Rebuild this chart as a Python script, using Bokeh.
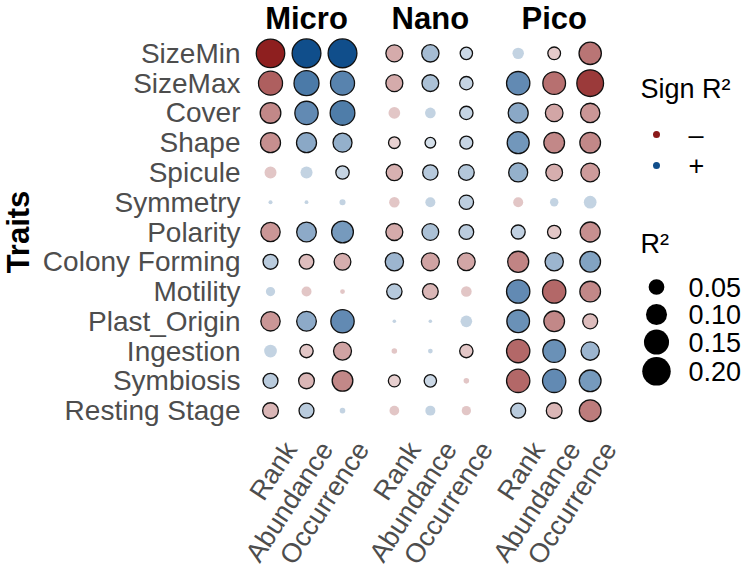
import math
from bokeh.plotting import figure
from bokeh.models import ColumnDataSource, Range1d
from bokeh.embed import file_html
from bokeh.resources import INLINE
from bokeh.core.properties import value

# ---------------- data ----------------
traits = ["SizeMin", "SizeMax", "Cover", "Shape", "Spicule", "Symmetry", "Polarity",
          "Colony Forming", "Motility", "Plast_Origin", "Ingestion", "Symbiosis", "Resting Stage"]
groups = ["Micro", "Nano", "Pico"]
metrics = ["Rank", "Abundance", "Occurrence"]

# signed R2 (negative = red "–", positive = blue "+"); *_sig: 1 = significant (outlined)
micro_rank = [-0.200, -0.136, -0.096, -0.089, -0.025, 0.0003, -0.082, 0.044, 0.012, -0.082, 0.029, 0.044, -0.050]
micro_rank_sig = [1, 1, 1, 1, 0, 0, 1, 1, 0, 1, 0, 1, 1]
micro_abund = [0.205, 0.149, 0.127, 0.089, 0.025, 0.0002, 0.086, -0.042, -0.015, 0.086, -0.033, -0.050, 0.044]
micro_abund_sig = [1, 1, 1, 1, 0, 0, 1, 1, 0, 1, 1, 1, 1]
micro_occ = [0.205, 0.136, 0.145, 0.079, 0.033, 0.003, 0.108, -0.058, -0.001, 0.127, -0.069, -0.096, 0.002]
micro_occ_sig = [1, 1, 1, 1, 1, 0, 1, 1, 0, 1, 1, 1, 0]

nano_rank = [-0.060, -0.060, -0.023, -0.023, -0.055, -0.017, -0.060, 0.072, 0.047, 0.0001, -0.002, -0.025, -0.014]
nano_rank_sig = [1, 1, 0, 1, 1, 0, 1, 1, 1, 0, 0, 1, 0]
nano_abund = [0.063, 0.058, 0.018, 0.018, 0.047, 0.015, 0.058, -0.069, -0.050, 0.0001, 0.001, 0.027, 0.015]
nano_abund_sig = [1, 1, 0, 1, 1, 0, 1, 1, 1, 0, 0, 1, 0]
nano_occ = [0.027, 0.033, 0.033, 0.031, 0.050, 0.040, 0.042, -0.066, -0.018, 0.023, -0.033, -0.002, -0.012]
nano_occ_sig = [1, 1, 1, 1, 1, 1, 1, 1, 0, 0, 1, 0, 0]

pico_rank = [0.022, 0.127, 0.089, 0.111, 0.079, -0.015, 0.037, -0.100, 0.127, 0.119, -0.127, -0.127, 0.044]
pico_rank_sig = [0, 1, 1, 1, 1, 0, 1, 1, 1, 1, 1, 1, 1]
pico_abund = [-0.029, -0.119, -0.066, -0.096, -0.058, 0.009, -0.033, 0.072, -0.127, -0.096, 0.119, 0.127, -0.050]
pico_abund_sig = [1, 1, 1, 1, 1, 0, 1, 1, 1, 1, 1, 1, 1]
pico_occ = [-0.115, -0.173, -0.082, -0.096, -0.076, 0.029, -0.089, 0.096, -0.096, -0.044, 0.072, 0.108, -0.108]
pico_occ_sig = [1, 1, 1, 1, 1, 0, 1, 1, 1, 1, 1, 1, 1]

size_legend_values = [0.05, 0.10, 0.15, 0.20]
size_legend_labels = ["0.05", "0.10", "0.15", "0.20"]
sign_labels = ["\u2013", "+"]

# ---------------- geometry / styling ----------------
FONT = "Liberation Sans"
NEG = "#8B1A1A"   # firebrick4
POS = "#104E8B"   # dodgerblue4
GROUP_STEP = 3.44
W, H = 745, 571

# panel (pixels in the page) and its data extent
PANEL_L, PANEL_T, PANEL_B = 246.0, 35.0, 428.0
PX0, PY0, PY1 = -0.667, 0.4, 13.6
PXU = 36.0                                  # pixels per column unit
PYU = (PANEL_B - PANEL_T) / (PY1 - PY0)     # pixels per row unit

# whole canvas is the frame -> ranges extended from the panel
X0 = PX0 - PANEL_L / PXU
X1 = X0 + W / PXU
Y1 = PY1 + PANEL_T / PYU
Y0 = Y1 - H / PYU


def diam(r2):
    return 3.0 + 57.0 * math.sqrt(abs(r2))


def cx(px):   # page x (px) -> data x
    return X0 + px / PXU


def cy(py):   # page y (px, from top) -> data y
    return Y1 - py / PYU


series = {
    ("Micro", "Rank"): (micro_rank, micro_rank_sig),
    ("Micro", "Abundance"): (micro_abund, micro_abund_sig),
    ("Micro", "Occurrence"): (micro_occ, micro_occ_sig),
    ("Nano", "Rank"): (nano_rank, nano_rank_sig),
    ("Nano", "Abundance"): (nano_abund, nano_abund_sig),
    ("Nano", "Occurrence"): (nano_occ, nano_occ_sig),
    ("Pico", "Rank"): (pico_rank, pico_rank_sig),
    ("Pico", "Abundance"): (pico_abund, pico_abund_sig),
    ("Pico", "Occurrence"): (pico_occ, pico_occ_sig),
}
rmax = max(abs(v) for vals, _ in series.values() for v in vals)

xs, ys, sizes, fills, alphas, lalphas = [], [], [], [], [], []
col_x, col_lab, grp_x = [], [], []
for gi, g in enumerate(groups):
    for mi, m in enumerate(metrics):
        x = gi * GROUP_STEP + mi
        col_x.append(x)
        col_lab.append(m)
        vals, sig = series[(g, m)]
        for ti, v in enumerate(vals):
            xs.append(x)
            ys.append(len(traits) - ti)
            sizes.append(diam(v))
            fills.append(NEG if v < 0 else POS)
            if sig[ti]:
                alphas.append(0.1 + 0.9 * abs(v) / rmax)
                lalphas.append(1.0)
            else:
                alphas.append(0.25)
                lalphas.append(0.0)
    grp_x.append(gi * GROUP_STEP + (len(metrics) - 1) / 2.0)

src = ColumnDataSource(dict(x=xs, y=ys, size=sizes, fill=fills, alpha=alphas, lalpha=lalphas))

# ---------------- figure ----------------
p = figure(width=W, height=H, x_range=Range1d(X0, X1), y_range=Range1d(Y0, Y1),
           output_backend="svg", toolbar_location=None,
           x_axis_location=None, y_axis_location=None, min_border=0)
p.outline_line_color = None
p.grid.visible = False
p.background_fill_color = "white"
p.border_fill_color = "white"

p.scatter("x", "y", size="size", source=src, fill_color="fill", fill_alpha="alpha",
          line_color="#111111", line_alpha="lalpha", line_width=1.3)

# trait labels (y tick labels)
trait_y = [len(traits) - i for i in range(len(traits))]
p.text(x=[PX0 - 6.0 / PXU] * len(traits), y=trait_y, text=traits, text_font=value(FONT),
       text_font_size="28px", text_color="#4D4D4D", text_align="right",
       text_baseline="middle")

# axis title
p.text(x=[cx(18)], y=[(PY0 + PY1) / 2.0], text=["Traits"], angle=math.pi / 2,
       text_font=value(FONT), text_font_style="bold", text_font_size="31px",
       text_color="black", text_align="center", text_baseline="middle")

# facet titles
p.text(x=grp_x, y=[cy(18)] * len(groups), text=groups, text_font=value(FONT),
       text_font_style="bold", text_font_size="31px", text_color="black",
       text_align="center", text_baseline="middle")

# rotated metric labels (x tick labels)
p.text(x=[x + 20.0 / PXU for x in col_x], y=[PY0 - 16.0 / PYU] * len(col_x), text=col_lab,
       angle=0.995, text_font=value(FONT), text_font_size="27px", text_color="#4D4D4D",
       text_align="right", text_baseline="middle")

# ---------------- legends ----------------
title_x, key_x, text_x = cx(640), cx(656), cx(688)

p.text(x=[title_x], y=[cy(88)], text=["Sign R\u00b2"], text_font=value(FONT),
       text_font_size="27px", text_color="black", text_baseline="middle")
sign_y = [cy(134 + 31 * i) for i in range(len(sign_labels))]
p.scatter(x=[key_x] * 2, y=sign_y, size=7, fill_color=[NEG, POS], line_color=None)
p.text(x=[text_x] * 2, y=sign_y, text=sign_labels, text_font=value(FONT),
       text_font_size="27px", text_color="black", text_baseline="middle")

p.text(x=[title_x], y=[cy(243)], text=["R\u00b2"], text_font=value(FONT),
       text_font_size="27px", text_color="black", text_baseline="middle")
kd = [diam(v) for v in size_legend_values]
kh = [max(27.5, d + 2.5) for d in kd]
size_py = [286.5]
for i in range(1, len(kd)):
    size_py.append(size_py[-1] + (kh[i - 1] + kh[i]) / 2.0)
p.scatter(x=[key_x] * len(kd), y=[cy(v) for v in size_py], size=kd, fill_color="black",
          line_color=None)
p.text(x=[text_x] * len(kd), y=[cy(v) for v in size_py], text=size_legend_labels,
       text_font=value(FONT), text_font_size="27px", text_color="black",
       text_baseline="middle")

open("out.html", "w").write(file_html(p, INLINE))
